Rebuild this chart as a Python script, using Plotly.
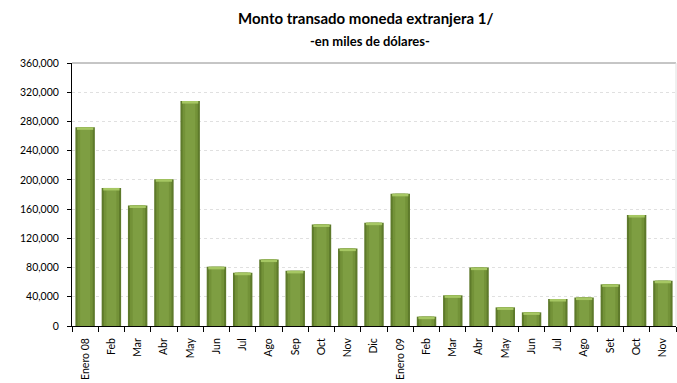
import plotly.graph_objects as go

labels = ["Enero 08", "Feb", "Mar", "Abr", "May", "Jun", "Jul", "Ago", "Sep", "Oct", "Nov", "Dic",
          "Enero 09", "Feb", "Mar", "Abr", "May", "Jun", "Jul", "Ago", "Set", "Oct", "Nov"]
values = [272000, 189000, 165000, 201000, 308000, 81000, 73000, 91000, 75500, 139000, 106000, 141500,
          181000, 12800, 42000, 80000, 25500, 18700, 37000, 39000, 57000, 152000, 62000]
y_ticks = [0, 40000, 80000, 120000, 160000, 200000, 240000, 280000, 320000, 360000]

x = list(range(len(values)))
cap = 3500
font = "Lato, 'Open Sans', sans-serif"

fig = go.Figure()
fig.add_trace(go.Bar(x=x, y=values, width=0.74, marker=dict(color="#5E7A2B", line=dict(width=0)),
                     hoverinfo="skip"))
fig.add_trace(go.Bar(x=x, y=values, width=0.58, marker=dict(color="#739238", line=dict(width=0)),
                     hoverinfo="skip"))
fig.add_trace(go.Bar(x=x, y=values, width=0.38, marker=dict(color="#7E9E42", line=dict(width=0)),
                     hoverinfo="skip"))
fig.add_trace(go.Bar(x=x, y=[cap] * len(values), base=[v - cap for v in values], width=0.62,
                     marker=dict(color="#A6C763", line=dict(width=0)), hoverinfo="skip"))

fig.update_layout(
    width=677, height=383,
    barmode="overlay",
    showlegend=False,
    plot_bgcolor="white", paper_bgcolor="white",
    margin=dict(l=72, r=1, t=63, b=57, autoexpand=False),
    font=dict(family=font, color="#000000", size=10),
    annotations=[
        dict(text="<b>Monto transado moneda extranjera 1/</b>", xref="paper", yref="paper",
             x=0.486, y=1.171, xanchor="center", yanchor="middle", showarrow=False,
             font=dict(family=font, size=15, color="#000000")),
        dict(text="<b>-en miles de dólares-</b>", xref="paper", yref="paper",
             x=0.493, y=1.084, xanchor="center", yanchor="middle", showarrow=False,
             font=dict(family=font, size=13, color="#000000")),
    ],
    xaxis=dict(
        range=[-0.5, len(values) - 0.5],
        tickmode="array", tickvals=x, ticktext=labels, tickangle=-90,
        ticks="", showgrid=False, zeroline=False, automargin=False,
        showline=True, linecolor="#000000", linewidth=1,
        tickfont=dict(size=10.5, family=font),
        ticklabelstandoff=7,
        minor=dict(ticks="outside", tick0=-0.5, dtick=1, ticklen=5, tickcolor="#000000", showgrid=False),
    ),
    yaxis=dict(
        range=[0, 360000], tickmode="array", tickvals=y_ticks,
        tickformat=",", ticks="outside", ticklen=4, tickcolor="#000000",
        showline=True, linecolor="#000000", linewidth=1,
        showgrid=True, gridcolor="#E0E0E0", griddash="dot", gridwidth=1,
        zeroline=False, automargin=False,
        ticklabelstandoff=6,
        tickfont=dict(size=10.5, family=font),
    ),
    shapes=[
        dict(type="line", xref="paper", yref="paper", x0=0, x1=1, y0=1, y1=1,
             line=dict(color="#8C8C8C", width=1)),
        dict(type="line", xref="paper", yref="paper", x0=1, x1=1, y0=0, y1=1,
             line=dict(color="#E0E0E0", width=1)),
    ],
)

fig.write_html("out.html", config={"displayModeBar": False},
               post_script="document.body.style.margin='0';document.body.style.overflow='hidden';")
